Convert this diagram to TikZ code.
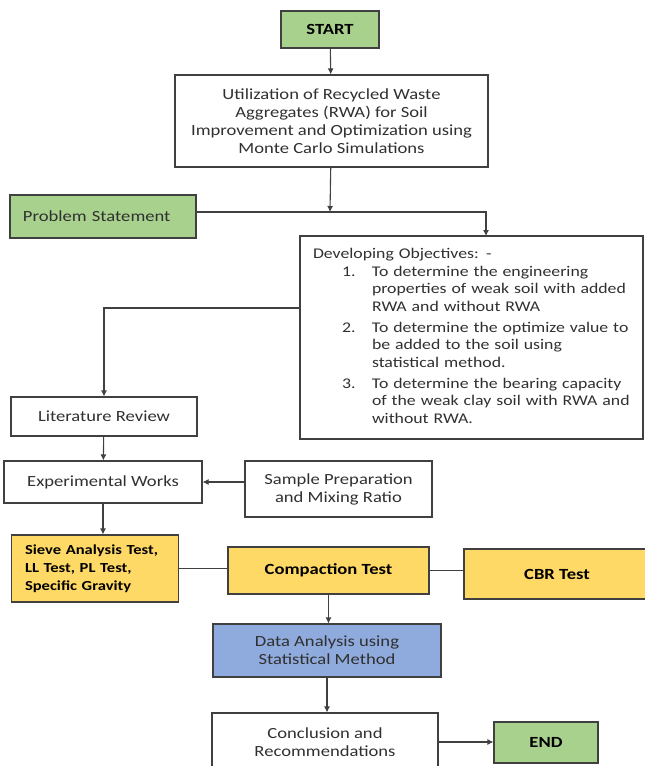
\documentclass[tikz,border=0pt]{standalone}
\usepackage{fontspec}
\setmainfont{Carlito}[FakeStretch=1.2]
\usepackage{tikz}
\usetikzlibrary{arrows, arrows.meta, shapes, positioning, calc}

\definecolor{boxline}{HTML}{404040}
\definecolor{txtgray}{HTML}{303030}
\definecolor{flowgreen}{HTML}{A9D18E}
\definecolor{flowyellow}{HTML}{FFD966}
\definecolor{flowblue}{HTML}{8FAADC}

\tikzset{
    box/.style={draw=boxline, line width=1.1pt, inner sep=0pt, align=center, text=txtgray},
    greenbox/.style={box, fill=flowgreen, text=black, font=\fontsize{15.5}{18}\selectfont\bfseries},
    testbox/.style={box, fill=flowyellow, text=black, font=\fontsize{15.5}{18}\selectfont\bfseries},
    bluebox/.style={box, fill=flowblue},
    link/.style={draw=boxline, line width=1.1pt}
}

\begin{document}
\begin{tikzpicture}[x=1pt, y=-1pt, >={Latex[length=6pt,width=6pt]}, font=\fontsize{15.5}{18}\selectfont]
    \useasboundingbox (0,0) rectangle (645,766);
    \clip (0,0) rectangle (645,766);

    \node[greenbox, minimum width=98pt, minimum height=37pt] (start) at (330,29.5) {START};
    \node[box, minimum width=313pt, minimum height=92pt] (title) at (331.5,121)
        {Utilization of Recycled Waste\\Aggregates (RWA) for Soil\\Improvement and Optimization using\\Monte Carlo Simulations};
    \node[greenbox, font=\fontsize{15.5}{18}\selectfont, text=txtgray, minimum width=186pt, minimum height=43pt, text width=160pt, align=left] (problem) at (103,216.5) {Problem Statement};

    \node[box, font=\fontsize{14.8}{17.5}\selectfont, minimum width=343pt, minimum height=203pt, text width=317pt, align=left] (obj) at (471.5,337.5) {%
        \begin{tabular}{@{}p{29pt}@{}p{30pt}@{}l@{}}
            \multicolumn{3}{@{}l@{}}{Developing Objectives: -}\\
            & 1. & To determine the engineering\\
            & & properties of weak soil with added\\
            & & RWA and without RWA\\[3.5pt]
            & 2. & To determine the optimize value to\\
            & & be added to the soil using\\
            & & statistical method.\\[3.5pt]
            & 3. & To determine the bearing capacity\\
            & & of the weak clay soil with RWA and\\
            & & without RWA.
        \end{tabular}};

    \node[box, minimum width=186pt, minimum height=39pt] (lit) at (104,416.5) {Literature Review};
    \node[box, minimum width=198pt, minimum height=42pt] (exp) at (103,482) {Experimental Works};
    \node[box, minimum width=187pt, minimum height=56pt] (sample) at (338.5,489) {Sample Preparation\\and Mixing Ratio};

    \node[testbox, font=\fontsize{13.8}{18}\selectfont\bfseries, minimum width=167pt, minimum height=67pt, text width=140pt, align=left] (sieve) at (95,568.5)
        {Sieve Analysis Test,\\LL Test, PL Test,\\Specific Gravity};
    \node[testbox, minimum width=201pt, minimum height=47pt] (comp) at (328.5,570.5) {Compaction Test};
    \node[testbox, minimum width=186pt, minimum height=50pt] (cbr) at (557,574) {CBR Test};

    \node[bluebox, minimum width=228pt, minimum height=53pt] (data) at (327,650.5) {Data Analysis using\\Statistical Method};
    \node[box, minimum width=226pt, minimum height=58pt] (concl) at (325,742) {Conclusion and\\Recommendations};
    \node[greenbox, minimum width=104pt, minimum height=41pt] (finish) at (546,742.5) {END};

    \coordinate (jn) at (330,212);
    \coordinate (objin) at (486,236);
    \coordinate (objout) at (300,308);

    \draw[link, ->] (start) -- (title);
    \draw[link, ->] (title) -- (jn);
    \draw[link, ->] (problem.east |- jn) -| (objin);
    \draw[link, ->] (objout) -| (lit);
    \draw[link, ->] (lit) -- (exp);
    \draw[link, ->] (sample.west |- exp.east) -- (exp.east);
    \draw[link, ->] (exp.south) -- (exp.south |- sieve.north);
    \draw[link] (sieve.east) -- (sieve.east -| comp.west);
    \draw[link] (comp.east) -- (comp.east -| cbr.west);
    \draw[link, ->] (comp.south) -- (comp.south |- data.north);
    \draw[link, ->] (data.south) -- (data.south |- concl.north);
    \draw[link, ->] (concl.east) -- (concl.east -| finish.west);
\end{tikzpicture}
\end{document}
